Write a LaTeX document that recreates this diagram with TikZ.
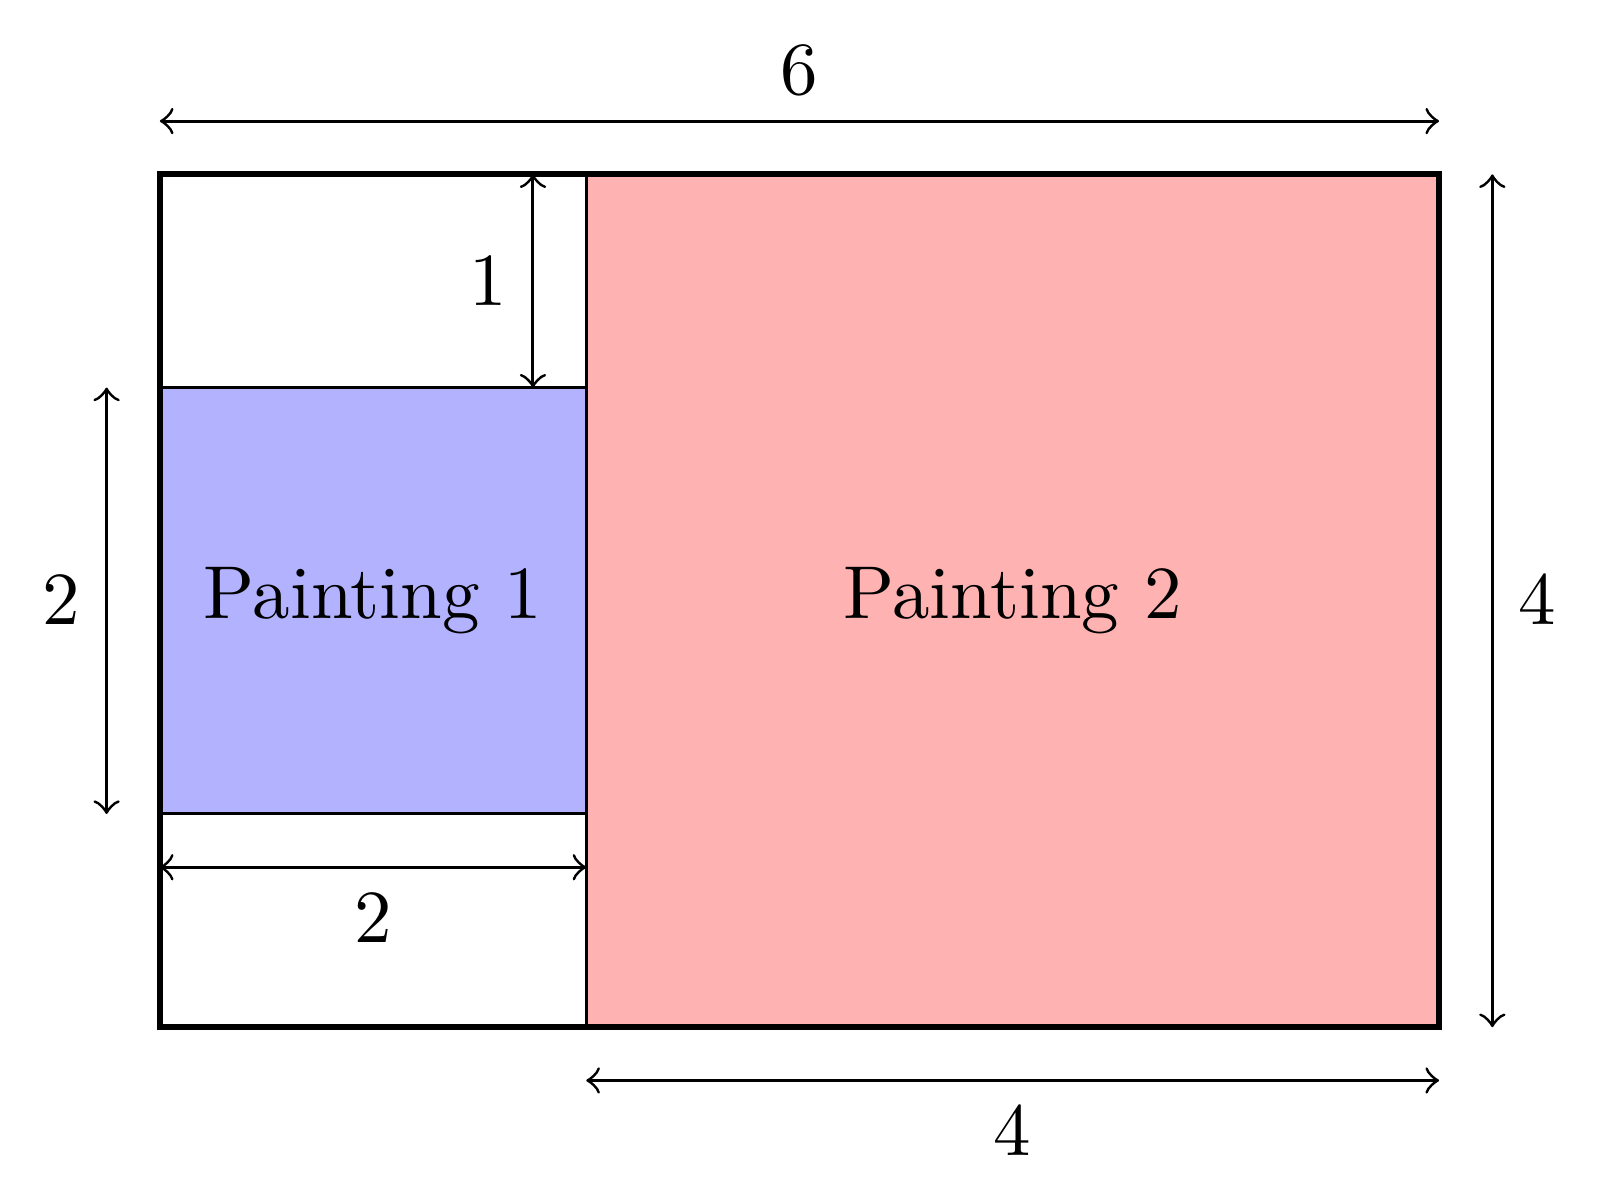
\documentclass[tikz,border=0pt]{standalone}
\usepackage{amsmath}
\usepackage{tikz}

\begin{document}
\begin{tikzpicture}
        \useasboundingbox (-0.75,-0.825) rectangle (6.755,4.818);

        % Wall corners --  --  --  --  --  --  --  --  --  --  --  --  --
        \coordinate (w0) at (0,0);
        \coordinate (w1) at (6,4);

        % Paintings --  --  --  --  --  --  --  --  --  --  --  --  --  --
        % Painting 2
        \draw[fill=red!30] (2,0) rectangle (6,4);
        \node (p2) at (4,2) {Painting 2};

        % Painting 1
        \draw[fill=blue!30] (0,1) rectangle (2,3);
        \node (p1) at (1,2) {Painting 1};

        % Wall outline
        \draw[thick] (w0) rectangle (w1);
        %  --  --  --  --  --  --  --  --  --  --  --  --  --  --  --  --

        % Dimensions --  --  --  --  --  --  --  --  --  --  --  --  --  -
        % wall width
        \coordinate (a0) at (0,4.25);
        \coordinate (a1) at (6,4.25);
        \draw[<->] (a0) -- (a1) node[midway, above] {$6$};

        % wall height
        \coordinate (b0) at (6.25,0);
        \coordinate (b1) at (6.25,4);
        \draw[<->] (b0) -- (b1) node[midway, right] {$4$};

        % painting 2 width
        \coordinate (c0) at (2,-0.25);
        \coordinate (c1) at (6,-0.25);
        \draw[<->] (c0) -- (c1) node[midway, below] {$4$};

        % painting 1 height
        \coordinate (d0) at (-0.25,1);
        \coordinate (d1) at (-0.25,3);
        \draw[<->] (d0) -- (d1) node[midway, left] {$2$};

        % painting 1 width
        \coordinate (e0) at (0,0.75);
        \coordinate (e1) at (2,0.75);
        \draw[<->] (e0) -- (e1) node[midway, below] {$2$};

        % gap above painting 1
        \coordinate (f0) at (1.75,3);
        \coordinate (f1) at (1.75,4);
        \draw[<->] (f0) -- (f1) node[midway, left] {$1$};
        %  --  --  --  --  --  --  --  --  --  --  --  --  --  --  --  --
\end{tikzpicture}
\end{document}
